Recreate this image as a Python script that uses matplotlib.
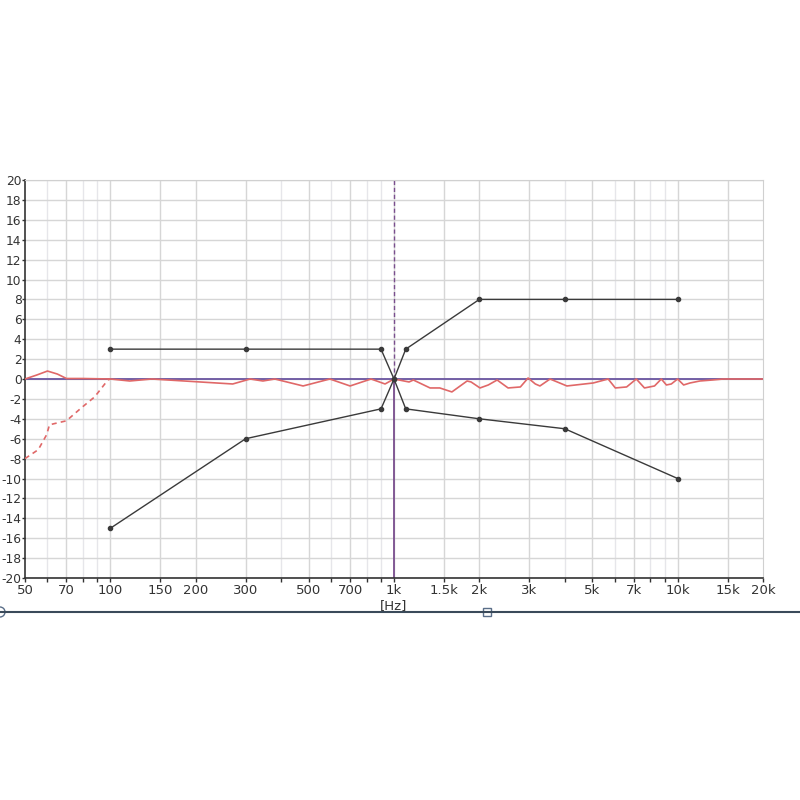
import matplotlib.pyplot as plt
import matplotlib.ticker as ticker
from matplotlib.patches import Rectangle, Circle
from matplotlib.lines import Line2D

# EQ node points (frequency in Hz, gain in dB)
upper_freq = [100, 300, 900, 1000, 1100, 2000, 4000, 10000]
upper_gain = [3, 3, 3, 0, 3, 8, 8, 8]
lower_freq = [100, 300, 900, 1000, 1100, 2000, 4000, 10000]
lower_gain = [-15, -6, -3, 0, -3, -4, -5, -10]

# measured response (solid red)
resp_freq = [50, 55, 60, 65, 70, 80, 100, 117, 140, 270, 311, 345, 380, 478, 594, 700,
             830, 930, 1000, 1130, 1170, 1340, 1450, 1600, 1810, 1870, 2010, 2150,
             2310, 2525, 2790, 2970, 3150, 3270, 3550, 4070, 5040, 5690, 6030, 6610,
             7150, 7640, 8290, 8760, 9130, 9500, 10000, 10500, 11060, 11980, 13270,
             14500, 20000]
resp_gain = [0, 0.4, 0.8, 0.5, 0.05, 0.05, 0, -0.2, 0, -0.5, 0, -0.2, 0, -0.7, 0, -0.7,
             0, -0.5, 0, -0.3, -0.1, -0.9, -0.9, -1.3, -0.2, -0.3, -0.9, -0.6,
             -0.1, -0.9, -0.8, 0.1, -0.5, -0.7, 0, -0.7, -0.4, 0, -0.9, -0.8,
             0, -0.9, -0.7, 0, -0.6, -0.5, 0, -0.6, -0.4, -0.2, -0.1,
             0, 0]

# low-cut slope (dashed red)
cut_freq = [50, 55.7, 59.6, 61, 70, 79, 88, 98, 100]
cut_gain = [-8, -7.1, -5.6, -4.6, -4.2, -2.9, -1.8, -0.1, 0]

major_grid = [70, 100, 150, 200, 300, 500, 700, 1000, 1500, 2000, 3000,
              5000, 7000, 10000, 15000]
minor_grid = [60, 80, 90, 400, 600, 800, 900, 4000, 6000, 8000, 9000]
tick_freqs = [50, 70, 100, 150, 200, 300, 500, 700, 1000, 1500, 2000, 3000,
              5000, 7000, 10000, 15000, 20000]
tick_labels = ['50', '70', '100', '150', '200', '300', '500', '700', '1k', '1.5k',
               '2k', '3k', '5k', '7k', '10k', '15k', '20k']
y_ticks = list(range(-20, 21, 2))

fig = plt.figure(figsize=(8, 8), dpi=100)
ax = fig.add_axes([25 / 800, 1 - 578 / 800, 738 / 800, 398 / 800])
ax.set_xscale('log')
ax.set_xlim(50, 20000)
ax.set_ylim(-20, 20)

for f in major_grid:
    ax.axvline(f, color='#d6d6d6', lw=1.0, zorder=0)
for f in minor_grid:
    ax.axvline(f, color='#e6e6ea', lw=1.0, zorder=0)
for y in y_ticks:
    ax.axhline(y, color='#d6d6d6', lw=1.0, zorder=0)

# cursor lines
ax.axhline(0, color='#6a55a0', lw=1.3, zorder=2)
ax.plot([1000, 1000], [-20, 0], color='#7a4e8e', lw=1.3, zorder=2)
ax.plot([1000, 1000], [0, 20], color='#7a4e8e', lw=1.0, ls=(0, (3, 2)), zorder=2)

ax.plot(resp_freq, resp_gain, color='#e06868', lw=1.2, zorder=3)
ax.plot(cut_freq, cut_gain, color='#e06868', lw=1.2, ls=(0, (3, 2.5)), zorder=3)

ax.plot(upper_freq, upper_gain, color='#3a3a3a', lw=1.0, marker='o', ms=3, zorder=4)
ax.plot(lower_freq, lower_gain, color='#3a3a3a', lw=1.0, marker='o', ms=3, zorder=4)

ax.xaxis.set_major_locator(ticker.FixedLocator(tick_freqs))
ax.xaxis.set_major_formatter(ticker.FixedFormatter(tick_labels))
ax.xaxis.set_minor_locator(ticker.FixedLocator(minor_grid))
ax.xaxis.set_minor_formatter(ticker.NullFormatter())
ax.set_yticks(y_ticks)
ax.set_yticklabels([str(v) for v in y_ticks])
ax.tick_params(axis='both', which='both', direction='out', length=3, width=1,
               color='#333333', labelsize=9.5, labelcolor='#333333', pad=1)
ax.tick_params(axis='y', length=2, pad=0.5, labelsize=8.8)

for side in ['top', 'right']:
    ax.spines[side].set_color('#d0d0d0')
for side in ['left', 'bottom']:
    ax.spines[side].set_color('#333333')
    ax.spines[side].set_linewidth(1.2)

fig.text(394 / 800, 1 - 606 / 800, '[Hz]', fontsize=9.5, color='#333333',
         ha='center', va='center')

# scrollbar at the bottom
fig.add_artist(Line2D([0, 1], [1 - 612 / 800] * 2, color='#3a4a5a', lw=1.5,
                      transform=fig.transFigure))
fig.add_artist(Rectangle((483 / 800, 1 - 616 / 800), 8 / 800, 8 / 800,
                         facecolor='white', edgecolor='#5a6e88', lw=1,
                         transform=fig.transFigure))
fig.add_artist(Circle((0, 1 - 612 / 800), 5 / 800, facecolor='white',
                      edgecolor='#5a6e88', lw=1, transform=fig.transFigure))

fig.savefig('out.png', dpi=100, facecolor='white')
